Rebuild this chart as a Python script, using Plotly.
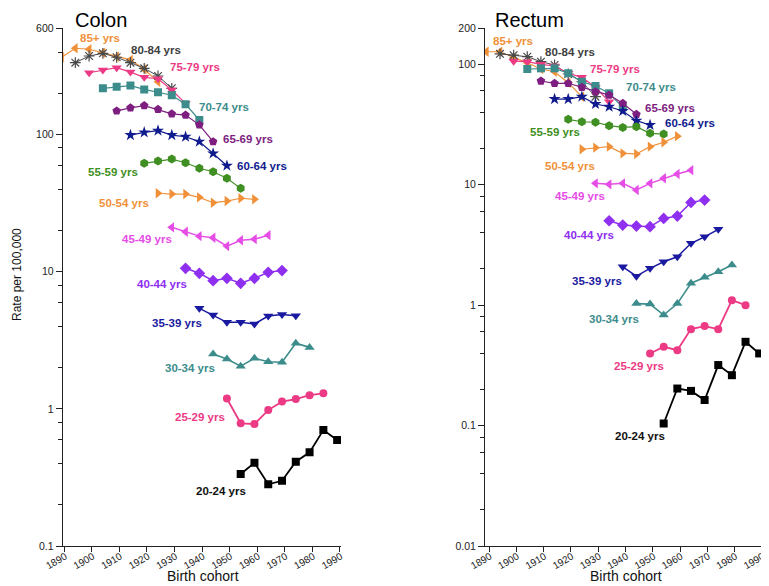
import plotly.graph_objects as go

# ---------------- data ----------------
age_groups = ["85+ yrs", "80-84 yrs", "75-79 yrs", "70-74 yrs", "65-69 yrs", "60-64 yrs",
              "55-59 yrs", "50-54 yrs", "45-49 yrs", "40-44 yrs", "35-39 yrs", "30-34 yrs",
              "25-29 yrs", "20-24 yrs"]
first_cohort = [1889, 1894, 1899, 1904, 1909, 1914, 1919, 1924, 1929, 1934, 1939, 1944, 1949, 1954]
cohort_step = 5

colon_85plus = [367, 427, 420, 396, 371, 351, 300, 243]
colon_80_84 = [335, 375, 392, 367, 335, 305, 268, 218]
colon_75_79 = [283, 296, 308, 286, 262, 256, 212, 169]
colon_70_74 = [218, 224, 228, 214, 204, 194, 167, 128]
colon_65_69 = [149, 157, 163, 153, 142, 139, 118, 89]
colon_60_64 = [99.4, 104, 107, 99.4, 96.6, 89, 73, 59.4]
colon_55_59 = [61.8, 64.3, 66.4, 62.4, 56.9, 53.7, 48.1, 40.6]
colon_50_54 = [37.4, 36.9, 36.9, 34.9, 31.9, 32.8, 34.4, 33.8]
colon_45_49 = [21.1, 19.6, 18.2, 17.7, 15.4, 17.0, 17.3, 18.5]
colon_40_44 = [10.6, 9.75, 8.61, 8.96, 8.24, 8.96, 9.91, 10.2]
colon_35_39 = [5.41, 4.84, 4.28, 4.28, 4.16, 4.76, 4.89, 4.78]
colon_30_34 = [2.51, 2.31, 2.05, 2.34, 2.21, 2.19, 3.01, 2.81]
colon_25_29 = [1.19, 0.785, 0.776, 0.98, 1.13, 1.18, 1.26, 1.30]
colon_20_24 = [0.335, 0.405, 0.282, 0.299, 0.412, 0.482, 0.701, 0.593]

rectum_85plus = [127, 127, 114, 103, 91.3, 86.7, 70.3, 53.8]
rectum_80_84 = [122, 119, 115.5, 105, 98.6, 83, 71.6, 53.8]
rectum_75_79 = [106, 105, 99.9, 96.7, 84.1, 77.9, 64.4, 48.9]
rectum_70_74 = [91.3, 92.5, 92.5, 84.1, 71.6, 66, 57.4, 43.9]
rectum_65_69 = [72.6, 69.5, 69.5, 64.4, 59.1, 55.5, 47.4, 38.4]
rectum_60_64 = [51.4, 51.4, 53.8, 46.8, 44.4, 40.9, 34, 31.3]
rectum_55_59 = [34.9, 33.3, 33, 30.9, 29.9, 30.3, 26.7, 26.3]
rectum_50_54 = [19.7, 20.3, 20.7, 18.2, 18.0, 20.7, 22.5, 25.3]
rectum_45_49 = [10.26, 10.07, 10.26, 9.03, 10.26, 11.3, 12.26, 13.2]
rectum_40_44 = [5.02, 4.62, 4.53, 4.48, 5.25, 5.49, 7.13, 7.45]
rectum_35_39 = [2.08, 1.74, 2.02, 2.29, 2.52, 3.26, 3.69, 4.26]
rectum_30_34 = [1.03, 1.02, 0.827, 1.03, 1.52, 1.70, 1.89, 2.15]
rectum_25_29 = [0.397, 0.451, 0.423, 0.632, 0.670, 0.632, 1.10, 1.0]
rectum_20_24 = [0.104, 0.203, 0.194, 0.163, 0.318, 0.262, 0.496, 0.397]

colon_series = [colon_85plus, colon_80_84, colon_75_79, colon_70_74, colon_65_69, colon_60_64,
                colon_55_59, colon_50_54, colon_45_49, colon_40_44, colon_35_39, colon_30_34,
                colon_25_29, colon_20_24]
rectum_series = [rectum_85plus, rectum_80_84, rectum_75_79, rectum_70_74, rectum_65_69, rectum_60_64,
                 rectum_55_59, rectum_50_54, rectum_45_49, rectum_40_44, rectum_35_39, rectum_30_34,
                 rectum_25_29, rectum_20_24]

x_ticks = [1890, 1900, 1910, 1920, 1930, 1940, 1950, 1960, 1970, 1980, 1990]
colon_yticks = [0.1, 1, 10, 100, 600]
colon_yticktext = ["0.1", "1", "10", "100", "600"]
rectum_yticks = [0.01, 0.1, 1, 10, 100, 200]
rectum_yticktext = ["0.01", "0.1", "1", "10", "100", "200"]

# ---------------- styles / layout ----------------
W, H = 769, 586
OX, OY = 8, 8            # page offset of the figure (body margin)
PLOT_TOP, PLOT_BOTTOM = 28, 546   # page pixels of plot area
MT = PLOT_TOP - OY
MB = H - (PLOT_BOTTOM - OY)
PH = H - MT - MB

colors = ["#F0913A", "#4A4A4A", "#EC3A84", "#3D8C8C", "#7D1E80", "#101C8E",
          "#3F8F22", "#F0913A", "#E64CE6", "#8F2FF0", "#1A1AA0", "#3D8C8C",
          "#EC3A84", "#000000"]
label_colors = ["#F0913A", "#404040", "#EC3A84", "#3D8C8C", "#7D1E80", "#101C8E",
                "#3F8F22", "#F0913A", "#E64CE6", "#8F2FF0", "#1A1AA0", "#3D8C8C",
                "#EC3A84", "#111111"]
symbols = ["triangle-left", "asterisk-open", "triangle-down", "square", "pentagon", "star",
           "hexagon", "triangle-right", "triangle-left", "diamond", "triangle-down", "triangle-up",
           "circle", "square"]
msizes = [9, 9, 9, 8, 9, 9, 9, 9, 9, 9, 9, 9, 8, 8]
lwidths = [1.2, 1.0, 1.2, 1.2, 1.2, 1.2, 1.2, 1.2, 1.5, 1.5, 1.5, 1.6, 1.8, 1.8]

# label centers in page pixels (x, y)
colon_label_px = [(100, 38), (156, 50), (195, 67), (224, 107), (248, 139), (262, 166),
                  (113, 172), (124, 203), (147, 239), (162, 284), (177, 323), (190, 368),
                  (200, 417), (221, 491)]
rectum_label_px = [(513, 41), (570, 52), (615, 69), (651, 87), (670, 108), (690, 123),
                   (555, 132), (570, 166), (580, 196), (589, 235), (597, 281), (614, 319),
                   (639, 366), (640, 436)]

FONT = "Liberation Sans, Arial, sans-serif"

fig = go.Figure()

def add_panel(series, xa, ya):
    for i, vals in enumerate(series):
        years = [first_cohort[i] + cohort_step * k for k in range(len(vals))]
        marker = dict(symbol=symbols[i], size=msizes[i], color=colors[i],
                      line=dict(width=0, color=colors[i]))
        if symbols[i] == "asterisk-open":
            marker["line"] = dict(width=1.2, color="#333333")
        fig.add_trace(go.Scatter(
            x=years, y=vals, mode="lines+markers", xaxis=xa, yaxis=ya,
            line=dict(color=colors[i], width=lwidths[i]),
            marker=marker, showlegend=False, hoverinfo="skip"))

add_panel(colon_series, "x", "y")
add_panel(rectum_series, "x2", "y2")

def px_to_paper(px, py):
    fx, fy = px - OX, py - OY
    return fx / W, 1 - (fy - MT) / PH

annotations = []
for pos in (colon_label_px, rectum_label_px):
    for i, (px, py) in enumerate(pos):
        xp, yp = px_to_paper(px, py)
        annotations.append(dict(x=xp, y=yp, xref="paper", yref="paper", text="<b>%s</b>" % age_groups[i],
                                showarrow=False, xanchor="center", yanchor="middle",
                                font=dict(family=FONT, size=11.5, color=label_colors[i])))

for txt, px, py in [("Colon", 73, 20), ("Rectum", 493, 20)]:
    xp, yp = px_to_paper(px, py)
    annotations.append(dict(x=xp, y=yp, xref="paper", yref="paper", text=txt, showarrow=False,
                            xanchor="left", yanchor="middle", font=dict(family=FONT, size=20, color="#000")))
for px in [203, 626]:
    xp, yp = px_to_paper(px, 576)
    annotations.append(dict(x=xp, y=yp, xref="paper", yref="paper", text="Birth cohort", showarrow=False,
                            xanchor="center", yanchor="middle", font=dict(family=FONT, size=14, color="#111")))
xp, yp = px_to_paper(17, 275)
annotations.append(dict(x=xp, y=yp, xref="paper", yref="paper", text="Rate per 100,000", showarrow=False,
                        textangle=-90, xanchor="center", yanchor="middle",
                        font=dict(family=FONT, size=12, color="#111")))

def minor_log(lo_dec, hi_dec, extra):
    vals = []
    for d in range(lo_dec, hi_dec):
        for m in (2, 4, 6, 8):
            vals.append(m * 10 ** d)
    return vals + extra

xaxis_common = dict(tickmode="array", tickvals=x_ticks, ticktext=[str(t) for t in x_ticks],
                    tickangle=-30, ticks="outside", ticklen=5, tickwidth=1, tickcolor="#222",
                    showline=True, linecolor="#222", linewidth=1, showgrid=False, zeroline=False,
                    tickfont=dict(family=FONT, size=10, color="#222"), ticklabelshift=1,
                    ticklabelstandoff=-5, automargin=False)
yaxis_common = dict(type="log", tickmode="array", ticks="outside", ticklen=6, tickwidth=1,
                    tickcolor="#222", showline=True, linecolor="#222", linewidth=1, showgrid=False,
                    zeroline=False, tickfont=dict(family=FONT, size=10.5, color="#222"),
                    automargin=False)

def dom(a, b):
    return [(a - OX) / W, (b - OX) / W]

xa1 = dict(xaxis_common, domain=dom(62.7, 341), range=[1889.42, 1990.4], anchor="y")
xa2 = dict(xaxis_common, domain=dom(485, 763), range=[1888.5, 1990.4], anchor="y2")
ya1 = dict(yaxis_common, domain=[0, 1], range=[-1, 2.77815], tickvals=colon_yticks,
           ticktext=colon_yticktext, anchor="x",
           minor=dict(tickmode="array", tickvals=minor_log(-1, 2, [200, 400]), ticks="outside",
                      ticklen=4, tickcolor="#222", showgrid=False))
ya2 = dict(yaxis_common, domain=[0, 1], range=[-2, 2.30103], tickvals=rectum_yticks,
           ticktext=rectum_yticktext, anchor="x2",
           minor=dict(tickmode="array", tickvals=minor_log(-2, 2, []), ticks="outside",
                      ticklen=4, tickcolor="#222", showgrid=False))

fig.update_layout(
    template="none",
    width=W, height=H, margin=dict(l=0, r=0, t=MT, b=MB, pad=0),
    paper_bgcolor="white", plot_bgcolor="white",
    xaxis=xa1, xaxis2=xa2, yaxis=ya1, yaxis2=ya2,
    annotations=annotations, showlegend=False,
    font=dict(family=FONT),
)

fig.write_html("out.html")
